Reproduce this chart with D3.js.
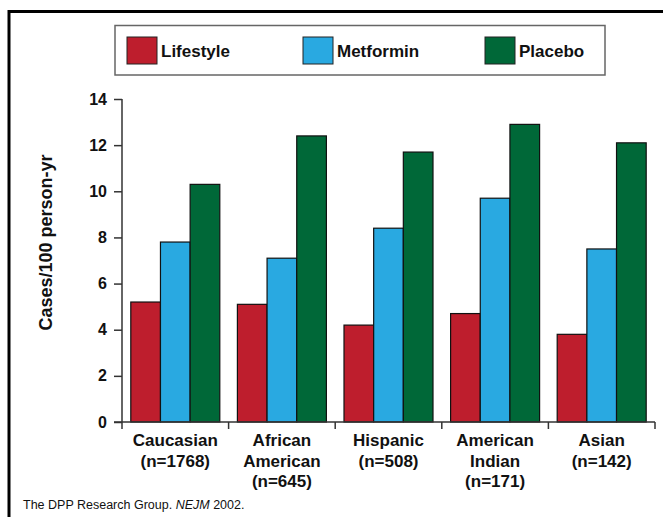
<!DOCTYPE html>
<html>
<head>
<meta charset="utf-8">
<script src="https://cdn.jsdelivr.net/npm/d3@7"></script>
<style>
  body { margin: 0; background: #fff; }
  svg text { font-family: "Liberation Sans", Arial, sans-serif; }
</style>
</head>
<body>
<div id="chart"></div>
<script>
// data
const groups = ["Caucasian", "African American", "Hispanic", "American Indian", "Asian"];
const groupLines = [
  ["Caucasian", "(n=1768)"],
  ["African", "American", "(n=645)"],
  ["Hispanic", "(n=508)"],
  ["American", "Indian", "(n=171)"],
  ["Asian", "(n=142)"]
];
const seriesNames = ["Lifestyle", "Metformin", "Placebo"];
const lifestyle = [5.2, 5.1, 4.2, 4.7, 3.8];
const metformin = [7.8, 7.1, 8.4, 9.7, 7.5];
const placebo = [10.3, 12.4, 11.7, 12.9, 12.1];
const yTicks = [0, 2, 4, 6, 8, 10, 12, 14];
const colors = ["#BE1E2D", "#29A9E1", "#006838"];

const width = 663, height = 517;

const svg = d3.select("#chart").append("svg")
  .attr("width", width)
  .attr("height", height);

// slide frame (top + left only)
svg.append("path")
  .attr("d", "M9,517 V11.5 H663")
  .attr("fill", "none")
  .attr("stroke", "#000")
  .attr("stroke-width", 3);

const x = d3.scaleBand().domain(groups).range([122, 655]).paddingInner(0).paddingOuter(0);
const xs = d3.scaleBand().domain(seriesNames).range([8.8, x.bandwidth() - 8.8]);
const y = d3.scaleLinear().domain([0, 14]).range([422, 99]);

const values = [lifestyle, metformin, placebo];

// bars
const g = svg.append("g");
groups.forEach((grp, i) => {
  seriesNames.forEach((s, j) => {
    g.append("rect")
      .attr("x", x(grp) + xs(s))
      .attr("y", y(values[j][i]))
      .attr("width", xs.bandwidth())
      .attr("height", y(0) - y(values[j][i]))
      .attr("fill", colors[j])
      .attr("stroke", "#111")
      .attr("stroke-width", 1.2);
  });
});

// y axis
const yAxis = svg.append("g")
  .attr("transform", "translate(122,0)")
  .call(d3.axisLeft(y).tickValues(yTicks).tickSize(8).tickPadding(7).tickSizeOuter(0));
yAxis.select(".domain").attr("stroke", "#333").attr("stroke-width", 1.5)
  .attr("d", "M0,99 V429");
yAxis.selectAll(".tick line").attr("stroke", "#333").attr("stroke-width", 1.5);
yAxis.selectAll(".tick text")
  .attr("font-size", 16).attr("font-weight", "bold").attr("fill", "#111")
  .attr("font-family", "Liberation Sans, Arial, sans-serif");

// x axis line with dividers
const xAxis = svg.append("g");
xAxis.append("line")
  .attr("x1", 114).attr("x2", 655).attr("y1", 422).attr("y2", 422)
  .attr("stroke", "#333").attr("stroke-width", 1.5);
groups.forEach(grp => {
  const xe = x(grp) + x.bandwidth();
  xAxis.append("line")
    .attr("x1", xe).attr("x2", xe).attr("y1", 422).attr("y2", 429)
    .attr("stroke", "#333").attr("stroke-width", 1.5);
});

// category labels
groups.forEach((grp, i) => {
  const t = svg.append("text")
    .attr("x", x(grp) + x.bandwidth() / 2)
    .attr("y", 446)
    .attr("text-anchor", "middle")
    .attr("font-size", 17)
    .attr("font-weight", "bold")
    .attr("fill", "#111");
  groupLines[i].forEach((ln, k) => {
    t.append("tspan")
      .attr("x", x(grp) + x.bandwidth() / 2)
      .attr("dy", k === 0 ? 0 : 20.7)
      .text(ln);
  });
});

// y title
svg.append("text")
  .attr("transform", "translate(51.5,242.5) rotate(-90)")
  .attr("text-anchor", "middle")
  .attr("font-size", 18)
  .attr("font-weight", "bold")
  .attr("fill", "#111")
  .text("Cases/100 person-yr");

// legend
svg.append("rect")
  .attr("x", 115).attr("y", 25.5).attr("width", 490).attr("height", 49.5)
  .attr("fill", "#fff").attr("stroke", "#666").attr("stroke-width", 1.5);
const legX = [127, 303, 485];
seriesNames.forEach((s, j) => {
  svg.append("rect")
    .attr("x", legX[j]).attr("y", 37).attr("width", 30).attr("height", 27)
    .attr("fill", colors[j]).attr("stroke", "#222").attr("stroke-width", 1);
  svg.append("text")
    .attr("x", legX[j] + 34).attr("y", 56.5)
    .attr("font-size", 17).attr("font-weight", "bold").attr("fill", "#111")
    .text(s);
});

// source
const src = svg.append("text")
  .attr("x", 23).attr("y", 509)
  .attr("font-size", 12.5).attr("fill", "#111");
src.append("tspan").text("The DPP Research Group. ");
src.append("tspan").attr("font-style", "italic").text("NEJM");
src.append("tspan").text(" 2002.");
</script>
</body>
</html>
